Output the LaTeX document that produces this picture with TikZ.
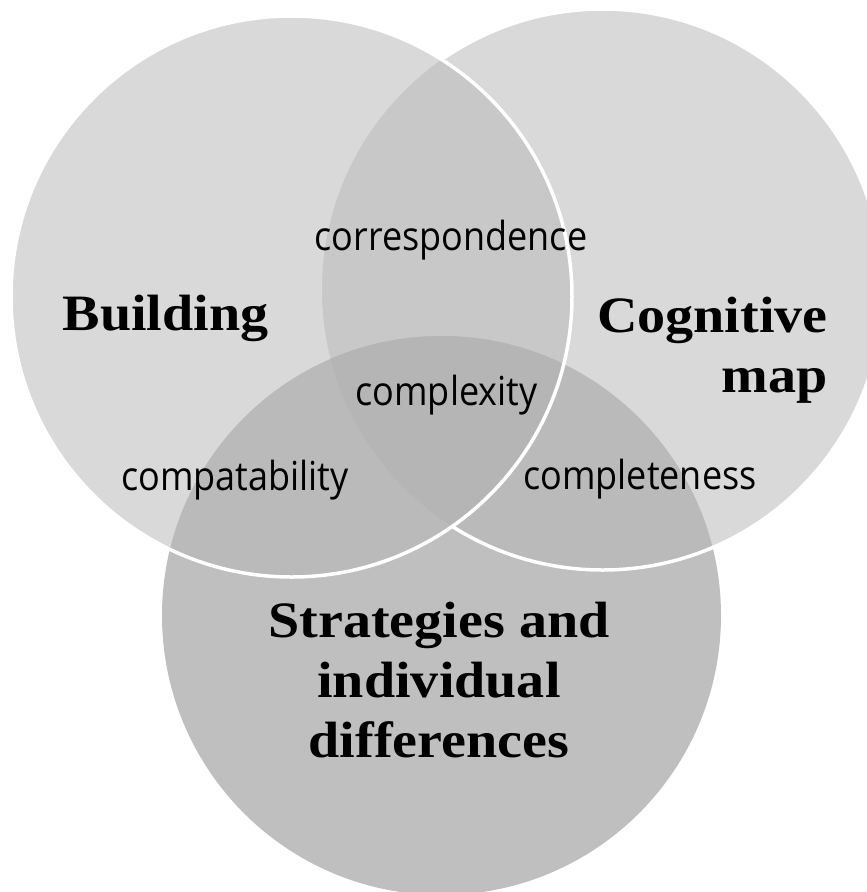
\documentclass[tikz,border=0pt]{standalone}
\usepackage{fontspec}
\newfontfamily\bigfont{Liberation Serif}[UprightFont={* Bold},FakeStretch=1.1]
\newfontfamily\smallfont{Open Sans}[FakeStretch=0.9]
\definecolor{cOne}{RGB}{217,217,217}
\definecolor{cLR}{RGB}{200,200,200}
\definecolor{cB}{RGB}{191,191,191}
\definecolor{cTwoB}{RGB}{186,186,186}
\definecolor{cThree}{RGB}{181,181,181}
\tikzset{
  rim/.style={draw=white,line width=3.5pt},
  biglabel/.style={font=\bigfont\fontsize{51}{60}\selectfont,inner sep=0pt,anchor=base},
  smalllabel/.style={font=\smallfont\fontsize{40}{46}\selectfont,inner sep=0pt,anchor=base}
}
\begin{document}
\begin{tikzpicture}[x=1pt,y=-1pt]
\useasboundingbox (0,0) rectangle (867,892);
\clip (0,0) rectangle (867,892);
\coordinate (cL) at (291.5,296.5);
\coordinate (cR) at (602.5,289.5);
\coordinate (cBot) at (441.5,615.5);
\def\rL{280.5}
\def\rR{280.5}
\def\rB{279.5}
% bottom circle
\fill[cB] (cBot) circle[radius=\rB];
% right circle
\fill[cOne] (cR) circle[radius=\rR];
\begin{scope}
  \clip (cR) circle[radius=\rR];
  \fill[cTwoB] (cBot) circle[radius=\rB];
\end{scope}
\draw[rim] (cR) circle[radius=\rR];
% left circle
\fill[cOne] (cL) circle[radius=\rL];
\begin{scope}
  \clip (cL) circle[radius=\rL];
  \fill[cLR] (cR) circle[radius=\rR];
  \fill[cTwoB] (cBot) circle[radius=\rB];
  \clip (cR) circle[radius=\rR];
  \fill[cThree] (cBot) circle[radius=\rB];
\end{scope}
\draw[rim] (cL) circle[radius=\rL];
% labels (multi-line nodes: base anchor sits on the last line)
\node[biglabel] (building) at (165.5,330) {Building};
\node[biglabel,align=right,anchor=base east] (cogmap) at (828,392.5) {Cognitive\\map};
\node[biglabel,align=center] (strat) at (439,757) {Strategies and\\individual\\differences};
\node[smalllabel] (corr) at (451,250) {correspondence};
\node[smalllabel] (cplx) at (446.5,405) {complexity};
\node[smalllabel] (compat) at (235,490) {compatability};
\node[smalllabel] (compl) at (640,489) {completeness};
\end{tikzpicture}
\end{document}
